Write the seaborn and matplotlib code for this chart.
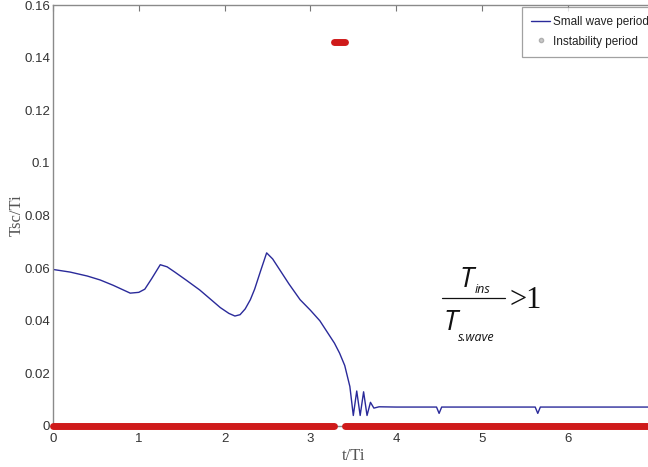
import numpy as np
import pandas as pd
import matplotlib
matplotlib.use("Agg")
import matplotlib.pyplot as plt
from matplotlib.lines import Line2D
import seaborn as sns

# ---- data ----
t_wave = [0.00, 0.20, 0.40, 0.55, 0.70, 0.90, 1.00, 1.07, 1.15, 1.25, 1.33, 1.42,
          1.55, 1.71, 1.85, 1.95, 2.05, 2.12, 2.18, 2.24, 2.30, 2.35, 2.42, 2.49,
          2.56, 2.65, 2.75, 2.88, 3.00, 3.11, 3.20, 3.28, 3.34, 3.40, 3.46, 3.50,
          3.54, 3.58, 3.62, 3.66, 3.70, 3.74, 3.80, 4.00, 4.47, 4.50, 4.53, 5.00,
          5.62, 5.65, 5.68, 6.20, 7.00]
y_wave = [0.0595, 0.0585, 0.0570, 0.0555, 0.0535, 0.0505, 0.0508, 0.0520, 0.0560, 0.0613, 0.0605, 0.0585,
          0.0555, 0.0517, 0.0478, 0.0450, 0.0428, 0.0418, 0.0423, 0.0445, 0.0480, 0.0520, 0.0590, 0.0658,
          0.0635, 0.0590, 0.0540, 0.0480, 0.0440, 0.0400, 0.0355, 0.0315, 0.0277, 0.0230, 0.0150, 0.0040,
          0.0133, 0.0040, 0.0130, 0.0040, 0.0090, 0.0068, 0.0073, 0.0072, 0.0072, 0.0048, 0.0072, 0.0072,
          0.0072, 0.0048, 0.0072, 0.0072, 0.0072]

inst_start = [0.00, 3.40, 3.27]
inst_end = [3.27, 7.00, 3.40]
inst_value = [0.0, 0.0, 0.146]

x_ticks = [0, 1, 2, 3, 4, 5, 6]
y_ticks = [0, 0.02, 0.04, 0.06, 0.08, 0.1, 0.12, 0.14, 0.16]
y_tick_labels = ["0", "0.02", "0.04", "0.06", "0.08", "0.1", "0.12", "0.14", "0.16"]

# ---- figure ----
sns.set_style("white")
plt.rcParams["font.family"] = ["Liberation Sans", "DejaVu Sans"]

W, H = 648, 467
fig = plt.figure(figsize=(W / 100, H / 100), dpi=100)
x0_px, y0_px, px_per_t, px_per_y = 53, 426, 85.8, 2631.0
ax = fig.add_axes([x0_px / W, (H - y0_px) / H, 7 * px_per_t / W, 0.16 * px_per_y / H])

df = pd.DataFrame({"t": t_wave, "Tsc": y_wave})
sns.lineplot(data=df, x="t", y="Tsc", sort=False, ax=ax, color="#2a2a9a",
             linewidth=1.0, estimator=None)

red = "#cf1a1a"
for s, e, v in zip(inst_start, inst_end, inst_value):
    ax.plot([s, e], [v, v], color=red, linewidth=5, solid_capstyle="round",
            clip_on=False, zorder=3)

ax.set_xlim(0, 7)
ax.set_ylim(0, 0.16)
ax.set_xticks(x_ticks)
ax.set_xticklabels([str(v) for v in x_ticks])
ax.set_yticks(y_ticks)
ax.set_yticklabels(y_tick_labels)
ax.tick_params(direction="in", top=True, right=True, length=4, width=0.8,
               color="#777777", labelsize=9.5, labelcolor="#333333", pad=2)
ax.tick_params(axis="x", pad=5)
for sp in ax.spines.values():
    sp.set_color("#8a8a8a")
    sp.set_linewidth(1.0)

ax.set_xlabel("t/Ti", family="Liberation Serif", fontsize=12, color="#555555", labelpad=2)
ax.set_ylabel("Tsc/Ti", family="Liberation Serif", fontsize=12, color="#555555", labelpad=0)

handles = [Line2D([], [], color="#2a2a9a", linewidth=1.0),
           Line2D([], [], color="none", marker="o", markersize=3,
                  markerfacecolor="#c8c8c8", markeredgecolor="#b0b0b0")]
leg = fig.legend(handles, ["Small wave period", "Instability period"],
                 loc="upper left", bbox_to_anchor=(522 / W, 1 - 7 / H),
                 bbox_transform=fig.transFigure, frameon=True, fancybox=False,
                 edgecolor="#8a8a8a", fontsize=8.5, handlelength=1.6,
                 handletextpad=0.2, borderpad=0.8, labelspacing=0.6,
                 borderaxespad=0)
leg.get_frame().set_linewidth(0.9)
for txt in leg.get_texts():
    txt.set_color("#222222")

# annotation: T_ins / T_s.wave > 1
def ftxt(x, y, s, **kw):
    fig.text(x / W, 1 - y / H, s, **kw)

ftxt(460, 287, "T", family="Open Sans", style="italic", fontsize=20, color="#111111", va="baseline")
ftxt(475, 293, "ins", family="Open Sans", style="italic", fontsize=9, color="#111111", va="baseline")
fig.add_artist(Line2D([442 / W, 505 / W], [1 - 298 / H, 1 - 298 / H],
                      transform=fig.transFigure, color="#111111", linewidth=0.9))
ftxt(443, 330, "T", family="Open Sans", style="italic", fontsize=20, color="#111111", va="baseline")
ftxt(458, 341, "s.wave", family="Open Sans", style="italic", fontsize=9, color="#111111", va="baseline")
ftxt(509, 308, ">1", family="Liberation Serif", fontsize=22, color="#111111", va="baseline")

fig.savefig("out.png", dpi=100)
